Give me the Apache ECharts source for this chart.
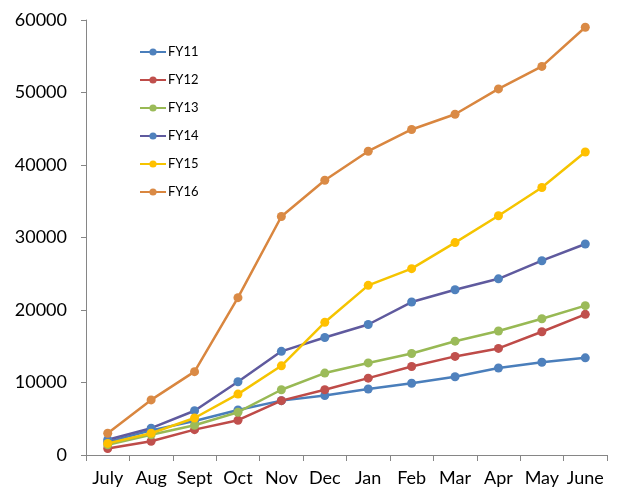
<!DOCTYPE html>
<html>
<head>
<meta charset="utf-8">
<script src="https://cdn.jsdelivr.net/npm/echarts@6/dist/echarts.min.js"></script>
<style>html,body{margin:0;padding:0;background:#fff}#c{width:621px;height:500px}</style>
</head>
<body>
<div id="c"></div>
<script>
var months = ['July','Aug','Sept','Oct','Nov','Dec','Jan','Feb','Mar','Apr','May','June'];
var seriesNames = ['FY11','FY12','FY13','FY14','FY15','FY16'];
var FY11 = [1800, 3400, 4700, 6200, 7500, 8200, 9100, 9900, 10800, 12000, 12800, 13400];
var FY12 = [900, 1900, 3500, 4800, 7500, 9000, 10600, 12200, 13600, 14700, 17000, 19400];
var FY13 = [1400, 2800, 4100, 5900, 9000, 11300, 12700, 14000, 15700, 17100, 18800, 20600];
var FY14 = [2100, 3700, 6100, 10100, 14300, 16200, 18000, 21100, 22800, 24300, 26800, 29100];
var FY15 = [1600, 3000, 5100, 8400, 12300, 18300, 23400, 25700, 29300, 33000, 36900, 41800];
var FY16 = [3000, 7600, 11500, 21700, 32900, 37900, 41900, 44900, 47000, 50500, 53600, 59000];
var yTicks = {min: 0, max: 60000, interval: 10000};

var dataSets = [FY11, FY12, FY13, FY14, FY15, FY16];
var lineColors = ['#4A7EBB', '#BE4B48', '#98B954', '#5F5A9E', '#F5C400', '#D9863F'];
var markColors = ['#4F81BD', '#C0504D', '#9BBB59', '#4F81BD', '#FFC000', '#DA8A45'];

var font = 'Lato, "Open Sans", sans-serif';
var series = seriesNames.map(function (n, i) {
  return {
    name: n, type: 'line', data: dataSets[i],
    symbol: 'circle', symbolSize: 9,
    lineStyle: {color: lineColors[i], width: 2.5},
    itemStyle: {color: markColors[i]},
    z: 2 + i
  };
});

var chart = echarts.init(document.getElementById('c'), null, {renderer: 'canvas'});
chart.setOption({
  animation: false,
  backgroundColor: '#fff',
  grid: {left: 86, right: 14, top: 20, bottom: 45, containLabel: false},
  legend: {
    orient: 'vertical', left: 139, top: 45, padding: 0,
    itemWidth: 26, itemHeight: 9, itemGap: 14,
    textStyle: {fontFamily: font, fontSize: 13, color: '#000', lineHeight: 14, padding: [0,0,0,-3]},
    data: seriesNames
  },
  xAxis: {
    type: 'category', data: months, boundaryGap: true,
    axisLine: {lineStyle: {color: '#868686', width: 1}},
    axisTick: {show: true, length: 6, lineStyle: {color: '#868686'}},
    axisLabel: {fontFamily: font, fontSize: 18, color: '#000', margin: 14, interval: 0}
  },
  yAxis: {
    type: 'value', min: yTicks.min, max: yTicks.max, interval: yTicks.interval,
    splitLine: {show: false},
    axisLine: {show: true, lineStyle: {color: '#868686', width: 1}},
    axisTick: {show: true, length: 5, lineStyle: {color: '#868686'}},
    axisLabel: {fontFamily: font, fontSize: 18, color: '#000', margin: 19,
      formatter: function (v) { return String(v); }}
  },
  series: series
});
</script>
</body>
</html>
